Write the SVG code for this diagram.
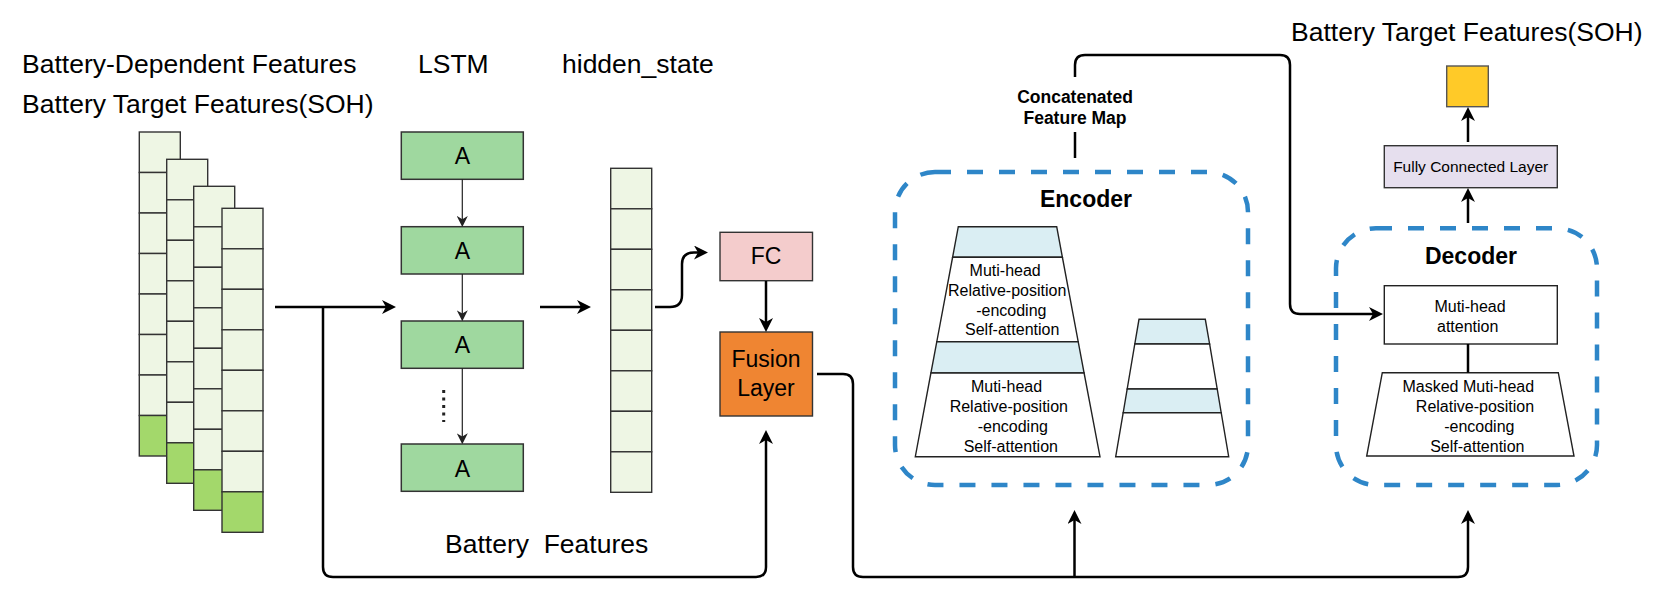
<svg xmlns="http://www.w3.org/2000/svg" width="1662" height="600" viewBox="0 0 1662 600">
<style>
text{font-family:"Liberation Sans",Arial,sans-serif;fill:#000}
.t26{font-size:26.5px}
.t23{font-size:23px}
.t16{font-size:16px;text-anchor:middle}
.bold{font-weight:bold;text-anchor:middle}
.cell{fill:#eef6e4;stroke:#333;stroke-width:1.4}
.cellg{fill:#a3d86b;stroke:#333;stroke-width:1.4}
.lstm{fill:#9fd89f;stroke:#333;stroke-width:1.5}
.shape{stroke:#222;stroke-width:1.4}
.blue{fill:#daeef3}
.white{fill:#fff}
.dash{fill:none;stroke:#2e86c8;stroke-width:4.5;stroke-dasharray:16 16}
.c{fill:none;stroke:#000;stroke-width:2.5}
.cs{fill:none;stroke:#222;stroke-width:1.2}
</style>
<defs>
<marker id="ah" viewBox="0 0 14 14" refX="10" refY="7" markerWidth="14" markerHeight="14" markerUnits="userSpaceOnUse" orient="auto"><path d="M0,0 L14,7 L0,14 L4,7 Z" fill="#000"/></marker>
<marker id="ahs" viewBox="0 0 10 10" refX="7" refY="5" markerWidth="11" markerHeight="11" markerUnits="userSpaceOnUse" orient="auto"><path d="M0,0 L10,5 L0,10 L3,5 Z" fill="#222"/></marker>
</defs>

<g id="labels">
<text class="t26" x="22" y="73">Battery-Dependent Features</text>
<text class="t26" x="22" y="113">Battery Target Features(SOH)</text>
<text class="t26" x="418" y="73">LSTM</text>
<text class="t26" x="562" y="73">hidden_state</text>
<text class="t26" x="1291" y="41">Battery Target Features(SOH)</text>
<text class="t26" x="445" y="553" xml:space="preserve">Battery  Features</text>
</g>

<g id="input-stack">
<g id="col1">
<rect class="cell" x="139.3" y="132" width="41" height="40.5"/>
<rect class="cell" x="139.3" y="172.5" width="41" height="40.5"/>
<rect class="cell" x="139.3" y="213" width="41" height="40.5"/>
<rect class="cell" x="139.3" y="253.5" width="41" height="40.5"/>
<rect class="cell" x="139.3" y="294" width="41" height="40.5"/>
<rect class="cell" x="139.3" y="334.5" width="41" height="40.5"/>
<rect class="cell" x="139.3" y="375" width="41" height="40.5"/>
<rect class="cellg" x="139.3" y="415.5" width="41" height="40.5"/>
</g>
<g id="col2">
<rect class="cell" x="166.7" y="159.3" width="41" height="40.5"/>
<rect class="cell" x="166.7" y="199.8" width="41" height="40.5"/>
<rect class="cell" x="166.7" y="240.3" width="41" height="40.5"/>
<rect class="cell" x="166.7" y="280.8" width="41" height="40.5"/>
<rect class="cell" x="166.7" y="321.3" width="41" height="40.5"/>
<rect class="cell" x="166.7" y="361.8" width="41" height="40.5"/>
<rect class="cell" x="166.7" y="402.3" width="41" height="40.5"/>
<rect class="cellg" x="166.7" y="442.8" width="41" height="40.5"/>
</g>
<g id="col3">
<rect class="cell" x="193.7" y="186.3" width="41" height="40.5"/>
<rect class="cell" x="193.7" y="226.8" width="41" height="40.5"/>
<rect class="cell" x="193.7" y="267.3" width="41" height="40.5"/>
<rect class="cell" x="193.7" y="307.8" width="41" height="40.5"/>
<rect class="cell" x="193.7" y="348.3" width="41" height="40.5"/>
<rect class="cell" x="193.7" y="388.8" width="41" height="40.5"/>
<rect class="cell" x="193.7" y="429.3" width="41" height="40.5"/>
<rect class="cellg" x="193.7" y="469.8" width="41" height="40.5"/>
</g>
<g id="col4">
<rect class="cell" x="222" y="208.3" width="41" height="40.5"/>
<rect class="cell" x="222" y="248.8" width="41" height="40.5"/>
<rect class="cell" x="222" y="289.3" width="41" height="40.5"/>
<rect class="cell" x="222" y="329.8" width="41" height="40.5"/>
<rect class="cell" x="222" y="370.3" width="41" height="40.5"/>
<rect class="cell" x="222" y="410.8" width="41" height="40.5"/>
<rect class="cell" x="222" y="451.3" width="41" height="40.5"/>
<rect class="cellg" x="222" y="491.8" width="41" height="40.5"/>
</g>
</g>

<g id="lstm">
<g id="lstm1"><rect class="lstm" x="401.3" y="132" width="122" height="47.3"/><text class="t23" x="462.3" y="164" text-anchor="middle">A</text></g>
<g id="lstm2"><rect class="lstm" x="401.3" y="226.7" width="122" height="47.3"/><text class="t23" x="462.3" y="259" text-anchor="middle">A</text></g>
<g id="lstm3"><rect class="lstm" x="401.3" y="321" width="122" height="47.3"/><text class="t23" x="462.3" y="353.3" text-anchor="middle">A</text></g>
<g id="lstm4"><rect class="lstm" x="401.3" y="444" width="122" height="47.3"/><text class="t23" x="462.3" y="476.7" text-anchor="middle">A</text></g>
<line id="ellipsis" x1="443.7" y1="390" x2="443.7" y2="422" stroke="#222" stroke-width="3" stroke-dasharray="3 4.5"/>
</g>

<g id="hidden-state">
<rect class="cell" x="610.7" y="168.3" width="41" height="40.5"/>
<rect class="cell" x="610.7" y="208.8" width="41" height="40.5"/>
<rect class="cell" x="610.7" y="249.3" width="41" height="40.5"/>
<rect class="cell" x="610.7" y="289.8" width="41" height="40.5"/>
<rect class="cell" x="610.7" y="330.3" width="41" height="40.5"/>
<rect class="cell" x="610.7" y="370.8" width="41" height="40.5"/>
<rect class="cell" x="610.7" y="411.3" width="41" height="40.5"/>
<rect class="cell" x="610.7" y="451.8" width="41" height="40.5"/>
</g>

<g id="fc">
<rect x="720" y="232.3" width="92.5" height="48.4" fill="#f4cccc" stroke="#333" stroke-width="1.4"/>
<text class="t23" x="766" y="264" text-anchor="middle">FC</text>
</g>

<g id="fusion">
<rect x="720" y="332" width="92.5" height="84" fill="#ef8532" stroke="#333" stroke-width="1.4"/>
<text class="t23" x="766" y="366.7" text-anchor="middle">Fusion</text>
<text class="t23" x="766" y="396" text-anchor="middle">Layer</text>
</g>

<g id="encoder">
<rect class="dash" x="895" y="172" width="353" height="313" rx="40"/>
<text class="bold" x="1086" y="207" font-size="23px">Encoder</text>
<g id="enc-stack1">
<polygon class="shape blue" points="958.3,226.7 1056.7,226.7 1062.4,257.3 952.6,257.3"/>
<polygon class="shape white" points="952.6,257.3 1062.4,257.3 1078.2,341.7 936.8,341.7"/>
<polygon class="shape blue" points="936.8,341.7 1078.2,341.7 1084.1,373 930.9,373"/>
<polygon class="shape white" points="930.9,373 1084.1,373 1100,456.7 915.3,456.7"/>
<text class="t16" x="1005.2" y="276">Muti-head</text>
<text class="t16" x="1007.2" y="296">Relative-position</text>
<text class="t16" x="1011.3" y="315.5">-encoding</text>
<text class="t16" x="1012.2" y="335">Self-attention</text>
<text class="t16" x="1006.5" y="391.5">Muti-head</text>
<text class="t16" x="1008.8" y="412">Relative-position</text>
<text class="t16" x="1012.8" y="432">-encoding</text>
<text class="t16" x="1010.8" y="451.5">Self-attention</text>
</g>
<g id="enc-stack2">
<polygon class="shape blue" points="1139,319.3 1205.3,319.3 1209.6,344 1134.8,344"/>
<polygon class="shape white" points="1134.8,344 1209.6,344 1217.2,389 1127.2,389"/>
<polygon class="shape blue" points="1127.2,389 1217.2,389 1221.2,412.7 1123.2,412.7"/>
<polygon class="shape white" points="1123.2,412.7 1221.2,412.7 1228.7,456.7 1115.7,456.7"/>
</g>
</g>

<g id="concat-label">
<text class="bold" x="1075" y="103" font-size="17.5px">Concatenated</text>
<text class="bold" x="1075" y="124" font-size="17.5px">Feature Map</text>
</g>

<g id="decoder">
<rect class="dash" x="1336" y="228.3" width="261" height="256.7" rx="40"/>
<text class="bold" x="1471" y="263.5" font-size="23px">Decoder</text>
<g id="dec-attn">
<rect class="shape white" x="1384.3" y="285.7" width="173" height="58.3"/>
<text class="t16" x="1470" y="312">Muti-head</text>
<text class="t16" x="1467.7" y="332">attention</text>
</g>
<g id="dec-masked">
<polygon class="shape white" points="1382.3,372.7 1558.3,372.7 1574,456 1366.7,456"/>
<text class="t16" x="1468.3" y="391.5">Masked Muti-head</text>
<text class="t16" x="1475" y="412">Relative-position</text>
<text class="t16" x="1479.3" y="432">-encoding</text>
<text class="t16" x="1477.3" y="452">Self-attention</text>
</g>
</g>

<g id="fc-layer">
<rect x="1384.3" y="145.7" width="173" height="42" fill="#e6dfee" stroke="#333" stroke-width="1.4"/>
<text x="1470.7" y="172" font-size="15.5px" text-anchor="middle">Fully Connected Layer</text>
</g>

<g id="output">
<rect x="1446.7" y="66" width="41.6" height="40.7" fill="#ffca28" stroke="#555" stroke-width="1.4"/>
</g>

<g id="connectors">
<path class="c" d="M275,307 H392" marker-end="url(#ah)"/>
<path class="c" d="M323,307 V567 Q323,577 333,577 H756 Q766,577 766,567 V434" marker-end="url(#ah)"/>
<path class="c" d="M540,307 H587" marker-end="url(#ah)"/>
<path class="c" d="M655,307 H670 Q682,307 682,295 V264 Q682,252.5 694,252.5 H704" marker-end="url(#ah)"/>
<path class="c" d="M766,281 V328" marker-end="url(#ah)"/>
<path class="c" d="M817,374 H843 Q853,374 853,384 V567 Q853,577 863,577 H1458 Q1468,577 1468,567 V514" marker-end="url(#ah)"/>
<path class="c" d="M1074.5,577 V514" marker-end="url(#ah)"/>
<path class="c" d="M1075,158 V132"/>
<path class="c" d="M1075,77 V65 Q1075,55 1085,55 H1280 Q1290,55 1290,65 V304 Q1290,314 1300,314 H1379" marker-end="url(#ah)"/>
<path class="c" d="M1468,223 V192" marker-end="url(#ah)"/>
<path class="c" d="M1468,142 V111" marker-end="url(#ah)"/>
<path class="c" d="M1468,344 V372.7"/>
<path class="cs" d="M462.3,179.3 V223.7" marker-end="url(#ahs)"/>
<path class="cs" d="M462.3,274 V318" marker-end="url(#ahs)"/>
<path class="cs" d="M462.3,368.3 V441" marker-end="url(#ahs)"/>
</g>
</svg>
